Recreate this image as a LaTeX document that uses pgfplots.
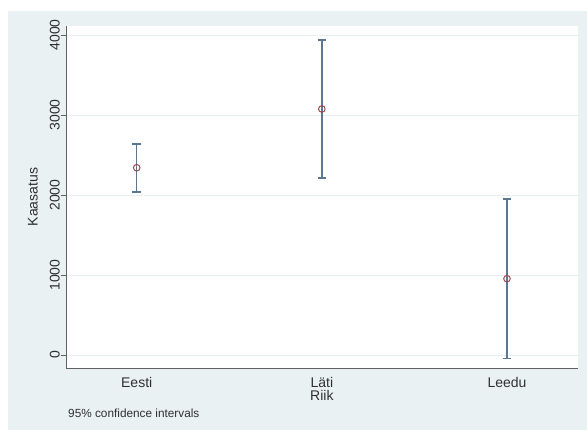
\documentclass[border=0pt]{standalone}
\usepackage{pgfplots}
\pgfplotsset{compat=1.18}
\usepackage{fontspec}
\setmainfont{Liberation Sans}
\definecolor{bgc}{HTML}{E9F1F3}
\definecolor{gridc}{HTML}{E8EFF2}
\definecolor{barc}{HTML}{5C7792}
\definecolor{mkc}{HTML}{9A4A50}
\definecolor{axc}{HTML}{606060}
\definecolor{txc}{HTML}{303030}
\begin{document}
\begin{tikzpicture}
\useasboundingbox (0bp,0bp) rectangle (587bp,430bp);
\fill[bgc] (8bp,0bp) rectangle (587bp,419bp);
\begin{axis}[
  at={(66bp,62bp)}, anchor=south west,
  scale only axis, width=511.7bp, height=342bp,
  xmin=-0.382, xmax=2.382, ymin=-162, ymax=4112,
  axis background/.style={fill=white},
  axis x line*=bottom, axis y line*=left,
  axis line style={axc, line width=0.9pt},
  x axis line style={-}, y axis line style={-},
  xtick={0,1,2}, xticklabels={Eesti,Läti,Leedu},
  ytick={0,1000,2000,3000,4000},
  ymajorgrids, grid style={gridc, line width=0.8pt},
  tick align=outside,
  major tick length=5bp,
  x tick style={draw=none},
  y tick style={axc, line width=0.8pt},
  /pgf/number format/assume math mode=true,
  /pgf/number format/set thousands separator={},
  tick label style={font=\fontsize{14bp}{16bp}\selectfont, text=txc},
  yticklabel style={rotate=90, anchor=south, inner sep=1bp},
  xticklabel style={inner sep=1bp, yshift=-3bp},
  ylabel={Kaasatus},
  ylabel style={font=\fontsize{14bp}{16bp}\selectfont, text=txc, at={(axis description cs:-0.0645,0.5)}, anchor=center, rotate=0},
  xlabel={Riik},
  xlabel style={font=\fontsize{14bp}{16bp}\selectfont, text=txc, at={(axis description cs:0.5,-0.079)}, anchor=center},
  clip=false,
]
\addplot[only marks, mark=o, mark size=3.3bp, mark options={draw=mkc, line width=1pt, fill=none},
  error bars/.cd, y dir=both, y explicit,
  error bar style={draw=barc, line width=1.5pt},
  error mark=|, error mark options={draw=barc, line width=1.5pt, mark size=4.3bp}]
  table[x=x, y=y, y error plus=ep, y error minus=em] {
x y ep em
0 2341 296 304
1 3075 859 863
2 954 996 995
};
\end{axis}
\node[anchor=west, text=txc, font=\fontsize{11.8bp}{13bp}\selectfont, inner sep=0pt] at (68bp,17bp) {95\% confidence intervals};
\end{tikzpicture}
\end{document}
